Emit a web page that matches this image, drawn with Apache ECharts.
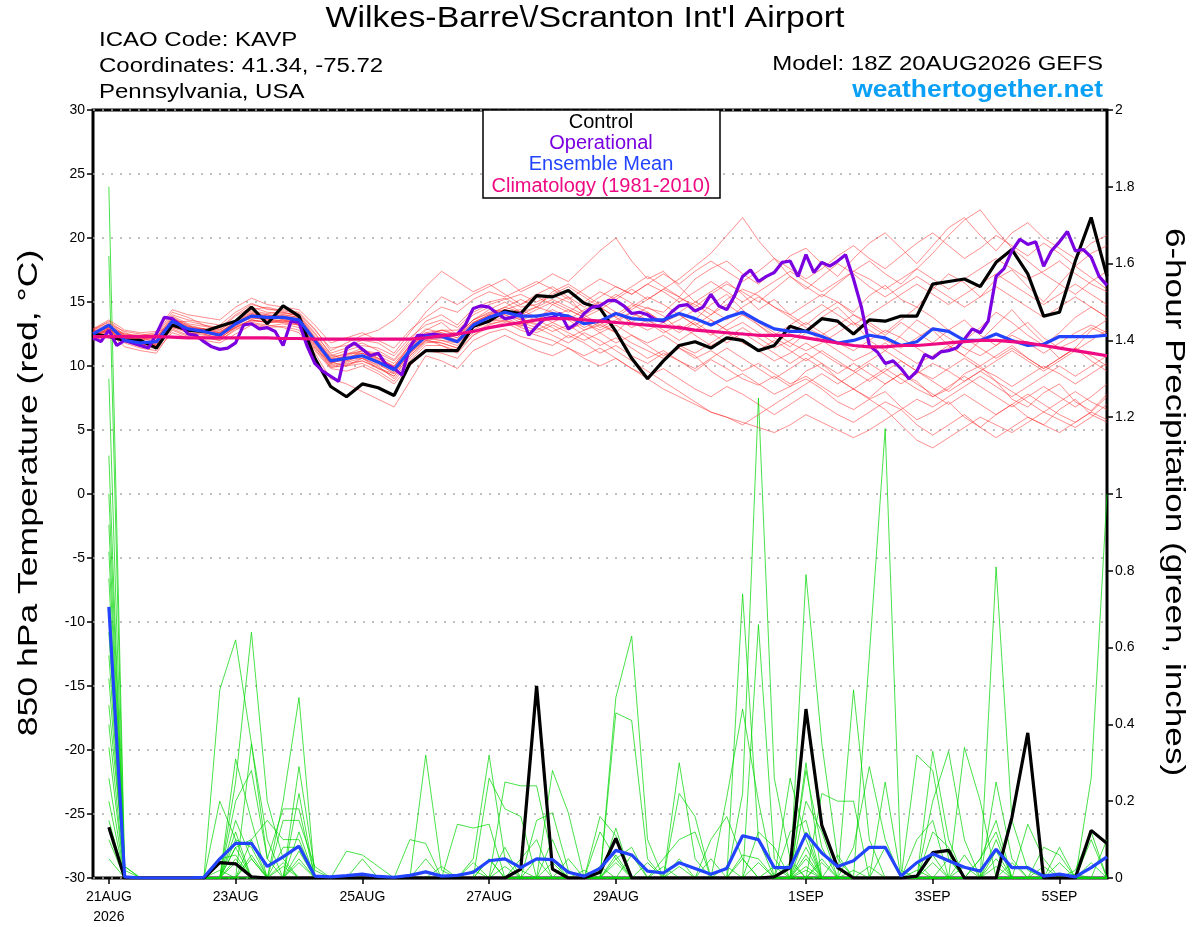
<!DOCTYPE html>
<html><head><meta charset="utf-8">
<script src="https://cdn.jsdelivr.net/npm/echarts@6/dist/echarts.min.js"></script>
<style>html,body{margin:0;padding:0;background:#fff}#c{width:1200px;height:927px}</style>
</head><body><div id="c"></div>
<script>
// ---- time axis (hours after 18Z 20AUG2026), 6-hourly ensemble, 3-hourly operational ----
const STEP_ENS = 6, STEP_OPER = 3;
const tickHours = [6, 54, 102, 150, 198, 270, 318, 366];
const tickLabels = ['21AUG\n2026', '23AUG', '25AUG', '27AUG', '29AUG', '1SEP', '3SEP', '5SEP'];

// ---- 850 hPa temperature (C) ----
const controlTemp = [12.5,12.3,12.0,12.0,11.4, 13.2,12.8,12.7,13.1,13.5, 14.6,13.3,14.7,13.9,10.6, 8.4,7.6,8.6,8.3,7.7, 10.2,11.2,11.2,11.2,13.1, 13.5,14.3,14.1,15.5,15.4, 15.9,14.9,14.5,12.7,10.6, 9.0,10.4,11.6,11.9,11.4, 12.2,12.0,11.2,11.6,13.1, 12.7,13.7,13.5,12.5,13.6, 13.5,13.9,13.9,16.4,16.6, 16.8,16.2,18.1,19.1,17.2, 13.9,14.2,18.2,21.6,17.0];
const meanTemp = [12.5,13.2,12.0,11.8,11.9, 13.5,12.9,12.7,12.4,13.3, 13.9,13.8,13.8,13.6,12.0, 10.4,10.6,10.8,10.3,9.7, 11.2,12.3,12.3,11.9,13.2, 13.8,14.2,13.9,13.9,14.1, 13.9,13.3,13.5,14.1,13.7, 13.6,13.6,14.1,13.7,13.2, 13.8,14.2,13.5,12.9,12.7, 12.7,12.3,11.8,12.0,12.4, 12.2,11.6,11.9,12.9,12.7, 12.0,12.0,12.5,12.0,11.6, 11.7,12.3,12.3,12.3,12.4];
const climoTemp = [12.3,12.3,12.3,12.3,12.3, 12.25,12.2,12.2,12.2,12.2, 12.2,12.2,12.15,12.15,12.1, 12.1,12.1,12.1,12.1,12.1, 12.1,12.2,12.35,12.5,12.7, 13.0,13.2,13.4,13.6,13.7, 13.7,13.6,13.5,13.4,13.3, 13.2,13.1,13.0,12.8,12.7, 12.6,12.5,12.4,12.4,12.4, 12.2,12.0,11.8,11.6,11.5, 11.5,11.6,11.6,11.7,11.8, 11.9,12.0,12.0,11.9,11.8, 11.6,11.4,11.2,11.0,10.8];
const operTemp = [12.2,11.9,12.8,11.6,12.0,11.8,11.6,11.4, 12.5,13.8,13.7,13.2,12.5,12.4,11.9,11.5, 11.3,11.4,11.8,13.2,13.3,12.9,13.0,12.7, 11.6,13.5,13.4,11.6,10.2,9.6,9.2,8.8, 11.4,11.8,11.3,10.8,11.0,10.1,9.8,9.3, 11.5,12.4,12.4,12.5,12.4,12.4,12.5,13.2, 14.5,14.7,14.6,14.1,13.7,13.8,14.1,12.4, 13.1,13.7,13.8,14.1,12.9,13.3,14.1,14.6, 14.7,15.1,15.1,14.7,14.1,14.2,14.0,13.6, 13.5,14.2,14.7,14.8,14.3,14.6,15.6,14.7, 14.4,15.5,17.0,17.5,16.6,17.0,17.3,18.1, 18.2,17.0,18.7,17.3,18.1,17.8,18.2,18.7, 16.8,14.6,11.6,11.1,10.2,10.4,9.8,9.0, 9.6,10.9,10.6,11.1,11.2,11.4,12.1,12.9, 12.6,13.5,17.0,17.6,19.0,19.9,19.5,19.7, 17.8,19.0,19.7,20.5,19.0,19.1,18.5,17.0, 16.3];

const memberT01 = [12.8,13.5,12.6,12.2,12.5,14.2,13.8,13.2,13.0,14.0,14.8,14.5,14.2,13.9,12.5,11.0,11.4,11.8,11.2,10.5,12.0,13.5,14.0,13.2,14.5,15.0,15.3,14.6,14.8,15.5,15.0,14.2,14.8,15.6,14.9,14.5,14.2,15.3,14.8,14.0,15.2,16.0,15.5,14.6,14.0,14.8,15.6,15.0,14.2,15.5,16.3,15.2,14.6,16.0,17.2,16.5,15.4,16.8,17.5,16.2,15.0,16.4,17.8,16.9,16.0];
const memberT02 = [12.2,12.6,11.5,11.2,11.0,12.8,12.3,12.0,11.8,12.5,13.2,13.0,13.1,12.8,11.2,9.8,9.6,10.0,9.4,8.6,10.0,11.2,11.0,10.6,12.0,12.6,12.9,12.3,12.0,11.6,12.4,11.8,11.0,11.6,10.8,10.2,11.0,10.4,9.6,10.5,9.8,9.0,8.5,9.2,8.4,9.6,10.2,9.0,8.2,7.5,8.6,9.4,8.8,7.6,8.2,9.4,10.0,8.8,7.4,6.8,7.9,8.6,7.2,6.5,7.8];
const memberT03 = [12.5,13.1,12.2,12.0,11.6,13.8,13.0,12.9,12.6,13.5,14.2,14.0,13.6,13.2,11.8,10.2,10.9,11.4,10.6,9.9,11.6,12.8,13.4,12.4,13.6,14.4,15.0,14.2,13.5,14.8,15.4,14.0,13.2,12.6,13.8,14.6,13.9,12.8,13.6,14.8,15.6,14.4,13.2,12.2,11.5,12.6,13.8,14.6,13.4,12.0,11.2,12.4,13.6,12.8,11.6,10.8,12.0,13.2,14.4,13.0,11.8,10.6,11.4,12.8,13.6];
const memberT04 = [12.9,13.4,12.4,12.3,12.2,13.9,13.3,13.1,12.9,13.9,14.6,14.2,14.1,14.0,12.6,10.9,10.5,11.2,11.0,10.4,11.8,12.9,12.6,12.2,13.4,14.0,14.6,15.2,14.6,15.8,16.4,15.6,14.8,15.4,16.2,17.0,16.2,15.4,16.8,17.6,18.2,17.2,16.4,17.4,18.6,19.2,18.0,17.0,18.4,19.6,20.4,19.2,18.0,19.4,20.8,21.6,20.2,19.0,20.4,21.2,20.0,19.2,18.4,19.6,20.2];
const memberT05 = [12.4,12.9,12.0,11.6,11.8,13.2,12.6,12.4,12.2,13.0,13.6,13.4,13.5,13.3,11.6,10.0,10.2,10.4,9.8,9.2,10.8,12.0,11.8,11.4,12.8,13.5,13.8,13.2,13.6,13.0,12.2,12.8,13.4,12.6,11.8,11.2,10.6,11.4,10.8,9.6,8.8,9.4,8.6,7.8,8.4,9.0,8.2,7.2,6.6,7.4,8.0,6.8,5.8,6.4,7.2,6.0,5.2,6.2,7.0,6.0,5.4,6.6,7.4,6.2,5.6];
const memberT06 = [12.6,13.2,12.3,11.9,12.0,13.6,13.1,12.8,12.5,13.4,14.0,13.9,14.0,13.8,12.2,10.6,11.0,11.0,10.4,9.6,11.4,12.6,12.4,12.0,13.2,13.8,14.4,14.0,14.6,14.2,13.6,12.8,13.2,14.0,14.8,14.2,13.4,14.2,15.0,14.4,13.6,14.6,15.4,14.6,13.8,13.0,12.4,13.2,14.0,13.4,12.6,13.6,14.6,13.8,12.8,12.0,13.0,14.2,13.4,12.4,11.6,12.6,13.8,14.6,13.8];
const memberT07 = [12.3,12.8,12.1,12.1,12.3,13.4,13.5,13.2,12.8,13.6,14.4,14.6,14.3,14.1,12.8,11.4,11.6,12.0,11.8,11.0,12.6,14.2,15.4,14.8,15.6,16.2,16.8,15.8,16.4,17.2,16.6,17.8,19.0,20.0,18.2,16.8,17.4,16.2,15.0,15.8,16.6,15.6,14.4,15.2,14.0,13.2,14.2,15.0,14.0,13.2,12.4,13.4,12.6,11.8,12.8,13.6,12.4,11.6,12.6,13.4,12.2,11.4,12.0,13.0,12.4];
const memberT08 = [12.0,12.4,11.8,11.4,11.2,12.6,12.2,12.3,12.0,12.8,13.4,13.2,13.0,12.6,11.0,9.0,8.6,8.0,7.4,6.8,8.8,10.8,10.4,9.8,11.2,11.8,12.4,11.8,11.2,10.8,11.4,10.6,10.0,10.6,9.8,9.2,9.8,9.0,8.2,7.6,8.4,7.8,7.0,6.2,7.0,7.8,7.0,6.2,5.6,6.4,7.2,6.6,5.4,4.6,5.4,6.2,5.2,4.4,5.2,6.0,5.4,4.8,5.6,6.4,7.6];
const memberT09 = [12.7,13.0,12.5,12.4,12.6,13.3,12.8,12.6,12.3,13.2,13.8,13.6,13.8,13.4,12.0,10.5,10.8,11.2,10.8,10.2,11.6,12.4,12.8,12.8,14.0,14.6,14.0,13.6,13.2,13.8,14.4,13.8,13.0,13.6,14.2,13.4,12.6,13.2,12.4,11.6,12.2,13.0,12.2,11.4,12.0,12.8,12.0,11.2,10.4,11.0,11.8,11.0,10.2,10.8,11.6,10.8,10.0,10.8,11.6,10.6,9.8,10.6,11.4,10.4,9.6];
const memberT10 = [12.5,13.0,12.2,11.7,11.6,13.0,12.9,12.9,12.7,13.3,13.8,13.6,13.4,13.2,11.4,10.2,10.6,10.8,10.2,9.4,11.0,12.2,12.8,12.4,13.6,14.2,14.4,14.8,15.4,14.8,14.2,15.0,15.8,15.2,14.4,15.2,16.0,15.4,14.6,15.6,16.4,15.8,15.0,16.0,17.0,16.2,15.4,16.4,17.4,18.2,17.2,16.4,17.6,18.8,20.2,21.4,22.2,20.6,19.2,18.2,17.2,16.4,15.6,16.6,17.4];
const memberT11 = [12.4,12.7,12.0,11.8,11.9,13.7,13.2,12.5,12.1,13.1,13.9,14.0,13.9,13.7,12.1,10.3,10.0,10.6,10.0,9.0,10.6,11.8,12.0,11.6,13.0,13.6,14.0,13.4,13.0,12.4,11.8,12.6,12.0,11.2,10.4,9.6,8.8,8.0,7.2,6.4,6.0,5.4,6.2,7.0,7.8,8.6,9.4,8.6,9.4,10.2,9.4,8.6,9.4,10.2,9.6,8.8,9.6,10.4,11.2,10.4,9.6,10.4,11.2,12.0,12.8];
const memberT12 = [12.6,13.1,12.4,12.1,12.0,13.5,12.9,12.7,12.4,13.3,14.1,13.8,13.7,13.6,12.0,10.4,10.4,10.8,10.4,9.8,11.2,12.3,12.2,11.8,13.0,13.6,14.2,13.6,14.0,13.4,12.8,13.4,12.6,11.8,12.4,11.6,10.8,11.4,10.6,11.2,10.4,9.6,10.2,9.4,8.6,9.2,8.4,7.6,8.2,7.4,6.6,5.4,4.2,3.6,4.4,5.2,6.0,5.4,4.8,5.6,6.4,5.8,5.2,6.0,7.0];
const memberT13 = [12.8,13.3,12.7,12.5,12.4,14.0,13.6,13.4,13.2,14.2,14.9,14.4,14.4,14.2,12.9,11.2,11.8,12.4,12.8,13.6,14.8,16.2,17.4,16.6,15.8,16.4,15.6,14.8,15.6,16.2,15.4,14.6,15.4,16.2,15.6,16.4,17.2,16.4,17.4,18.2,17.4,16.6,17.4,18.4,17.6,16.8,17.6,18.6,19.4,18.4,17.6,18.6,19.6,20.4,19.4,18.4,19.2,20.2,19.4,18.6,19.6,18.8,17.8,18.8,19.4];
const memberT14 = [12.3,12.9,12.2,11.9,11.7,13.1,12.7,12.6,12.4,13.0,13.5,13.5,13.6,13.5,11.8,10.2,10.6,10.6,9.8,9.4,11.0,12.0,12.2,12.4,13.4,13.9,14.2,14.4,13.8,14.4,13.8,13.0,13.6,14.2,13.4,12.8,13.4,14.0,13.2,12.4,13.2,14.0,13.4,12.6,11.8,11.2,11.8,12.6,13.4,12.8,12.0,11.4,12.2,13.0,12.2,11.4,10.8,11.6,12.4,11.8,11.0,11.8,12.6,13.2,12.6];
const memberT15 = [12.5,12.8,11.9,11.6,11.7,13.3,12.7,12.6,12.5,13.4,13.7,13.7,13.5,13.4,11.7,10.1,10.3,10.6,10.1,9.5,11.0,12.1,11.6,11.2,12.4,13.0,13.4,12.8,12.4,12.0,11.4,10.8,11.4,10.6,9.8,9.0,8.2,7.6,7.0,6.4,6.0,5.6,5.2,4.8,5.4,6.2,5.6,5.0,4.4,5.0,5.8,6.6,7.4,6.8,7.6,8.4,9.2,8.4,7.6,8.4,9.2,10.0,9.2,10.0,10.8];
const memberT16 = [12.7,13.2,12.5,12.2,12.1,13.8,13.2,12.9,12.8,13.6,14.3,14.1,14.2,13.9,12.3,10.8,11.2,11.6,11.4,10.8,12.2,13.2,13.6,13.0,14.2,14.8,15.2,15.6,15.0,15.6,16.2,15.4,14.6,13.8,14.6,15.4,14.8,14.0,13.2,14.0,14.8,14.0,13.2,12.4,13.2,14.0,14.8,14.0,13.2,14.0,14.8,15.6,16.4,15.6,14.8,15.6,16.4,17.2,16.4,15.6,14.8,15.6,16.4,15.6,14.8];
const memberT17 = [12.2,12.7,11.9,11.5,11.4,12.9,12.4,12.2,12.0,12.9,13.3,13.1,13.3,13.0,11.3,9.9,10.0,10.2,9.6,8.8,10.4,11.6,11.6,11.0,12.4,13.2,13.6,13.0,12.6,13.2,12.6,12.0,12.6,13.2,12.4,11.8,12.4,11.6,11.0,11.8,12.6,11.8,11.2,10.4,11.0,11.8,11.0,10.2,9.6,10.4,11.2,10.4,9.6,9.0,9.8,10.6,9.8,9.2,8.4,9.2,10.0,9.4,8.6,9.4,10.2];
const memberT18 = [12.9,13.6,12.8,12.6,12.7,14.4,14.0,13.8,13.6,14.6,15.3,14.8,14.6,14.4,13.2,11.8,12.2,12.6,12.0,11.4,12.8,13.8,14.6,14.2,15.2,15.8,15.4,16.0,16.6,16.0,15.2,16.0,16.8,16.2,15.6,16.4,15.8,15.0,15.8,16.6,15.8,15.0,15.8,16.6,17.4,16.6,15.8,16.6,17.4,16.8,16.0,16.8,17.6,16.8,16.0,16.8,17.6,18.4,17.6,16.8,17.4,18.2,17.2,16.4,15.8];
const memberT19 = [12.4,12.9,12.1,11.8,11.9,13.4,12.9,12.8,12.3,13.1,13.6,13.4,13.6,13.4,11.9,10.4,10.4,10.8,10.4,9.6,11.2,12.2,12.0,11.8,13.0,13.5,13.6,13.2,12.8,13.4,14.0,13.4,12.8,13.4,14.2,13.6,13.0,13.6,14.4,13.6,12.8,13.4,12.6,11.8,12.6,13.4,12.6,11.8,11.2,12.0,12.8,12.2,11.4,10.6,11.4,12.2,11.4,10.6,11.4,10.6,9.8,10.6,11.4,10.8,10.0];
const memberT20 = [12.6,13.0,12.3,12.0,12.2,13.5,13.0,12.7,12.6,13.5,14.1,13.9,14.0,13.8,12.2,10.7,10.9,11.2,10.6,10.0,11.4,12.4,12.6,12.2,13.4,14.0,14.4,13.8,14.4,15.0,14.4,13.8,14.4,15.2,16.0,15.2,16.0,16.8,17.8,18.8,20.2,21.6,19.8,18.4,17.0,16.0,17.0,18.0,17.2,16.2,15.4,16.2,17.0,16.2,15.4,14.6,15.4,16.2,15.4,14.6,13.8,14.6,15.4,14.6,13.8];
const memberT21 = [12.5,13.0,12.1,11.9,11.8,13.4,12.8,12.6,12.4,13.2,13.9,13.7,13.7,13.5,11.9,10.4,10.7,11.0,10.5,9.8,11.3,12.4,12.5,12.0,13.3,13.9,14.3,13.7,13.3,12.7,13.2,12.4,11.6,12.2,11.4,10.6,11.2,10.4,9.8,10.6,11.4,10.6,9.8,9.0,9.8,10.6,9.8,9.0,8.2,9.0,9.8,9.0,8.2,7.6,8.4,9.2,8.4,7.6,6.8,7.6,8.4,7.6,6.8,7.6,8.6];
const memberT22 = [12.7,13.1,12.3,12.1,12.3,13.6,13.1,12.9,12.6,13.4,14.0,13.8,13.9,13.6,12.1,10.6,10.6,11.0,10.6,10.0,11.6,12.6,12.8,12.5,13.6,14.1,14.6,14.2,14.6,15.2,14.6,14.0,14.6,13.8,13.0,13.6,12.8,12.0,12.8,13.6,12.8,12.0,11.2,12.0,11.2,10.4,11.2,10.4,9.6,8.8,9.6,10.4,9.6,8.8,8.0,8.8,9.6,8.8,8.0,7.2,6.4,7.2,8.0,7.2,6.6];
const memberT23 = [12.3,12.8,12.0,11.7,11.6,13.0,12.6,12.5,12.2,13.0,13.6,13.4,13.4,13.2,11.5,9.9,10.1,10.4,9.9,9.2,10.8,11.9,11.8,11.4,12.6,13.3,13.5,13.1,13.6,14.2,13.6,14.4,15.0,14.2,13.4,14.2,13.4,12.6,13.4,12.6,11.8,12.6,11.8,11.0,10.2,11.0,10.2,9.4,10.2,9.4,8.6,9.4,8.6,7.8,7.0,7.8,7.0,6.2,7.0,7.8,7.0,6.2,5.6,6.4,5.8];

// ---- 6-hour precipitation (inches) ----
const controlPrecip = [null,0.132,0,0,0, 0,0,0,0.04,0.037, 0.003,0,0,0,0, 0,0,0,0,0, 0,0,0,0,0, 0,0,0.023,0.50,0.023, 0,0,0.015,0.103,0, 0,0,0,0,0, 0,0,0,0.003,0.027, 0.44,0.137,0.027,0,0, 0,0,0.005,0.066,0.072, 0,0,0,0.158,0.378, 0,0,0,0.124,0.09];
const meanPrecip = [null,0.706,0.003,0,0, 0,0,0.002,0.05,0.09, 0.09,0.03,0.055,0.083,0.005, 0.003,0.006,0.01,0.004,0.002, 0.007,0.016,0.005,0.007,0.015, 0.045,0.05,0.027,0.05,0.048, 0.015,0.005,0.025,0.072,0.06, 0.018,0.013,0.04,0.025,0.01, 0.025,0.11,0.10,0.027,0.027, 0.115,0.065,0.03,0.045,0.08, 0.08,0.005,0.04,0.063,0.045, 0.028,0.018,0.075,0.027,0.027, 0.005,0.01,0.003,0.027,0.055];

const memberP01 = [null,1.80,0.03,0,0, 0,0,0,0,0.10, 0.08,0,0,0,0, 0,0,0,0,0, 0,0,0,0,0, 0.05,0,0,0,0, 0,0,0,0.13,0, 0,0,0,0,0, 0,0.22,1.25,0.26,0.05, 0,0,0,0,0, 0,0,0,0,0, 0,0,0.07,0,0, 0,0,0,0.26,1.0];
const memberP02 = [null,1.62,0,0,0, 0,0,0,0.49,0.62, 0.35,0.10,0,0,0, 0,0,0,0,0, 0,0.32,0.02,0,0, 0,0,0,0,0, 0,0,0,0,0, 0,0,0.30,0.05,0, 0,0,0,0,0, 0.30,0,0,0,0, 0.25,0,0,0.33,0.10, 0,0,0,0,0, 0,0,0,0,0];
const memberP03 = [null,1.30,0,0,0, 0,0,0,0,0.25, 0.64,0.20,0.05,0,0, 0,0,0,0,0, 0,0,0,0,0, 0,0.25,0.24,0.24,0.05, 0,0,0,0,0, 0,0,0,0,0, 0,0.74,0.10,0,0, 0,0,0,0.49,0.10, 0,0,0,0,0, 0,0,0.25,0.05,0, 0,0,0,0,0];
const memberP04 = [null,1.10,0,0,0, 0,0,0,0,0, 0,0,0.20,0.47,0, 0,0,0,0,0, 0,0,0,0,0.05, 0.32,0.05,0,0,0, 0,0,0,0.47,0.63, 0.10,0,0,0,0, 0,0,0,0,0, 0.79,0.35,0.05,0,0, 0,0,0,0,0, 0,0,0,0,0, 0,0.08,0,0,0];
const memberP05 = [null,1.00,0.02,0,0, 0,0,0,0,0.31, 0.15,0,0,0.29,0.02, 0,0,0,0,0, 0,0,0,0,0, 0,0,0,0,0.28, 0.17,0,0,0,0, 0,0,0,0,0, 0,0,0.66,0.05,0, 0,0,0,0,0.58, 1.17,0.02,0,0,0, 0,0.05,0.15,0,0, 0,0,0,0,0];
const memberP06 = [null,0.92,0,0,0, 0,0,0,0,0, 0.35,0.05,0,0.22,0, 0,0.07,0.06,0.03,0, 0,0,0,0,0, 0,0,0,0,0, 0,0,0,0.43,0.41, 0.05,0,0,0,0, 0,0,0,0,0.26, 0.10,0,0,0,0, 0,0,0.32,0.28,0.05, 0,0,0,0,0, 0,0,0,0.10,0];
const memberP07 = [null,0.85,0,0,0, 0,0,0,0,0.20, 0.28,0.05,0.18,0.18,0, 0,0,0,0,0, 0,0,0,0.14,0.13, 0.14,0,0,0,0, 0,0,0,0,0, 0,0,0.22,0.16,0, 0,0,0,0,0, 0,0.22,0.20,0.20,0, 0,0,0,0,0, 0.34,0.20,0,0,0, 0.08,0.06,0,0,0];
const memberP08 = [null,0.78,0,0,0, 0,0,0,0,0.15, 0.05,0,0.15,0.15,0.03, 0,0,0,0,0, 0.10,0.09,0,0,0, 0,0,0,0.15,0.17, 0.02,0,0,0,0, 0,0,0,0,0, 0.21,0.44,0.20,0,0, 0,0,0,0,0, 0,0,0,0,0, 0,0,0.81,0.15,0.02, 0,0,0,0,0];
const memberP09 = [null,0.70,0,0,0, 0,0,0,0.20,0.10, 0,0,0,0.12,0, 0,0,0,0,0, 0,0,0,0,0, 0.26,0.18,0.16,0,0, 0,0,0.16,0.11,0, 0,0,0,0,0, 0,0,0,0,0, 0.28,0.08,0,0,0, 0,0,0,0.20,0.33, 0.10,0,0,0,0.14, 0.05,0,0,0,0];
const memberP10 = [null,0.64,0,0,0, 0,0,0,0,0.08, 0.10,0.15,0.10,0.10,0, 0,0,0.05,0,0, 0,0,0,0,0, 0,0,0,0,0, 0,0,0.12,0.05,0, 0,0,0,0,0.10, 0.16,0.05,0,0,0, 0.20,0.12,0,0,0, 0,0,0.10,0.15,0, 0,0,0,0,0, 0,0,0.02,0.12,0];
const memberP11 = [null,0.58,0,0,0, 0,0,0,0,0, 0,0,0.08,0.08,0, 0,0,0,0,0, 0,0.05,0,0,0, 0,0,0.05,0.10,0, 0,0,0,0,0, 0,0.05,0.10,0.12,0, 0,0,0,0,0.12, 0.15,0,0,0.08,0.29, 0.10,0,0,0,0, 0,0.05,0.12,0,0, 0,0,0,0,0];
const memberP12 = [null,0.52,0,0,0, 0,0,0,0,0.12, 0,0,0,0,0, 0,0,0,0,0, 0,0,0,0,0.04, 0,0,0,0,0.10, 0,0,0,0.05,0.08, 0,0,0,0,0, 0,0,0.12,0.08,0, 0.12,0,0,0,0, 0.08,0,0,0.12,0.08, 0,0,0.10,0,0, 0,0,0,0,0.10];
const memberP13 = [null,0.45,0.03,0,0, 0,0,0,0,0, 0.10,0,0,0.05,0, 0,0,0,0,0, 0,0,0,0,0, 0,0,0,0,0, 0.05,0,0,0,0, 0.04,0,0,0,0, 0,0.06,0.05,0,0, 0.08,0,0.06,0,0, 0,0,0,0,0, 0.06,0,0,0,0, 0,0.04,0,0,0];
const memberP14 = [null,0.40,0,0,0, 0,0,0,0.05,0.06, 0,0,0,0,0, 0,0,0,0,0, 0,0,0.03,0,0, 0,0.08,0,0,0, 0,0,0,0.06,0, 0,0,0,0,0.05, 0,0,0,0,0.04, 0,0.05,0,0,0, 0,0,0,0.06,0, 0,0,0,0.04,0, 0,0,0,0,0];
const memberP15 = [null,0.34,0,0,0, 0,0,0,0,0.08, 0,0,0.04,0,0, 0,0,0,0,0, 0,0,0,0,0, 0.05,0,0,0,0, 0,0.02,0,0,0, 0,0,0.05,0,0, 0,0,0,0,0, 0.06,0,0,0,0.03, 0,0,0.04,0,0, 0,0,0.05,0,0, 0,0,0,0,0];
const memberP16 = [null,0.26,0,0,0, 0,0,0,0,0, 0.05,0,0,0.07,0, 0,0,0,0,0, 0,0,0,0,0, 0,0,0,0.05,0, 0,0,0,0,0.06, 0,0,0,0,0, 0,0,0.04,0,0, 0,0.04,0,0,0, 0,0,0,0,0.05, 0,0,0,0,0, 0.03,0,0,0,0];
const memberP17 = [null,0.20,0,0,0, 0,0,0,0,0.05, 0,0,0.03,0,0, 0,0,0,0,0, 0,0,0,0,0, 0,0,0,0,0.04, 0,0,0,0.04,0, 0,0,0,0,0, 0,0.05,0,0,0, 0.05,0,0,0,0, 0,0,0,0.04,0, 0,0,0,0,0, 0,0,0,0.04,0];
const memberP18 = [null,0.15,0,0,0, 0,0,0,0,0, 0.06,0,0,0,0, 0,0,0,0,0, 0,0,0,0,0, 0,0.03,0,0,0, 0,0,0,0,0, 0,0.03,0,0,0, 0,0,0,0.03,0, 0,0,0,0.02,0, 0,0,0,0,0, 0.03,0,0,0,0, 0,0,0,0,0];
const memberP19 = [null,0.10,0,0,0, 0,0,0,0,0.04, 0,0,0,0.04,0, 0,0,0,0,0, 0,0,0,0,0, 0,0,0.02,0,0, 0,0,0.03,0,0, 0,0,0,0,0, 0.03,0,0,0,0, 0.03,0,0,0,0, 0,0,0,0,0, 0,0,0.03,0,0, 0,0,0,0,0];
const memberP20 = [null,0.05,0,0,0, 0,0,0,0.02,0, 0,0,0,0,0, 0,0,0,0,0, 0,0,0,0,0.02, 0,0,0,0,0, 0,0,0,0,0, 0,0,0.03,0,0, 0,0,0,0,0, 0.02,0,0,0,0, 0,0,0.02,0,0, 0,0,0,0,0, 0,0,0.01,0,0];

const tempMembers = [memberT01,memberT02,memberT03,memberT04,memberT05,memberT06,memberT07,memberT08,memberT09,memberT10,memberT11,memberT12,memberT13,memberT14,memberT15,memberT16,memberT17,memberT18,memberT19,memberT20,memberT21,memberT22,memberT23];
const precipMembers = [memberP01,memberP02,memberP03,memberP04,memberP05,memberP06,memberP07,memberP08,memberP09,memberP10,memberP11,memberP12,memberP13,memberP14,memberP15,memberP16,memberP17,memberP18,memberP19,memberP20];

const FONT = '"Liberation Sans", Arial, Helvetica, sans-serif';
const pairs = (arr, step) => arr.map((v, i) => [i * step, v]);

const series = [];
precipMembers.forEach(m => series.push({type:'line', yAxisIndex:1, data:pairs(m, STEP_ENS), symbol:'none', silent:true,
  lineStyle:{color:'rgba(0,215,0,0.8)', width:0.9}}));
tempMembers.forEach(m => series.push({type:'line', yAxisIndex:0, data:pairs(m, STEP_ENS), symbol:'none', silent:true,
  lineStyle:{color:'rgba(255,45,45,0.6)', width:0.9}}));
series.push({type:'line', yAxisIndex:1, data:pairs(controlPrecip, STEP_ENS), symbol:'none', lineStyle:{color:'#000', width:3.2}});
series.push({type:'line', yAxisIndex:1, data:pairs(meanPrecip, STEP_ENS), symbol:'none', lineStyle:{color:'#2244ff', width:3.2}});
series.push({type:'line', yAxisIndex:0, data:pairs(controlTemp, STEP_ENS), symbol:'none', lineStyle:{color:'#000', width:3.2}});
series.push({type:'line', yAxisIndex:0, data:pairs(operTemp, STEP_OPER), symbol:'none', lineStyle:{color:'#7a00e0', width:3.2}});
series.push({type:'line', yAxisIndex:0, data:pairs(meanTemp, STEP_ENS), symbol:'none', lineStyle:{color:'#2244ff', width:3.2}});
series.push({type:'line', yAxisIndex:0, data:pairs(climoTemp, STEP_ENS), symbol:'none', lineStyle:{color:'#ee0a82', width:3.2}});

const labelMap = {};
tickHours.forEach((h, i) => labelMap[h] = tickLabels[i]);

const chart = echarts.init(document.getElementById('c'), null, {renderer:'canvas'});
chart.setOption({
  animation:false,
  backgroundColor:'#fff',
  grid:{left:93, right:93, top:110, bottom:44, show:true, borderColor:'#000', borderWidth:3, backgroundColor:'transparent'},
  xAxis:{type:'value', min:0, max:384,
    axisLine:{show:false, onZero:false}, splitLine:{show:false},
    axisTick:{show:true, customValues:tickHours, length:6, lineStyle:{color:'#000', width:1.5}},
    axisLabel:{customValues:tickHours, formatter:v => labelMap[v] || '', color:'#000', fontFamily:FONT, fontSize:14, margin:9, lineHeight:20}},
  yAxis:[
    {type:'value', min:-30, max:30, interval:5, position:'left',
     axisLine:{show:false, onZero:false},
     axisTick:{show:true, length:6, lineStyle:{color:'#000', width:1.5}},
     axisLabel:{color:'#000', fontFamily:FONT, fontSize:14, margin:8},
     splitLine:{show:true, lineStyle:{color:'#aaa', width:1.5, type:[2,7]}}},
    {type:'value', min:0, max:2, interval:0.2, position:'right',
     axisLine:{show:false, onZero:false},
     axisTick:{show:true, length:6, lineStyle:{color:'#000', width:1.5}},
     axisLabel:{color:'#000', fontFamily:FONT, fontSize:14, margin:8, formatter:v => String(parseFloat(v.toFixed(1)))},
     splitLine:{show:false}}
  ],
  graphic:[
    {type:'text', x:585, y:19, scaleX:1.13, style:{text:"Wilkes-Barre\\/Scranton Int'l Airport", font:'30px '+FONT, fill:'#000', textAlign:'center', textVerticalAlign:'middle'}},
    {type:'text', x:99, y:40, scaleX:1.2, style:{text:'ICAO Code: KAVP', font:'20px '+FONT, fill:'#000', textAlign:'left', textVerticalAlign:'middle'}},
    {type:'text', x:99, y:66, scaleX:1.2, style:{text:'Coordinates: 41.34, -75.72', font:'20px '+FONT, fill:'#000', textAlign:'left', textVerticalAlign:'middle'}},
    {type:'text', x:99, y:92, scaleX:1.2, style:{text:'Pennsylvania, USA', font:'20px '+FONT, fill:'#000', textAlign:'left', textVerticalAlign:'middle'}},
    {type:'text', x:1103, y:64, scaleX:1.2, style:{text:'Model: 18Z 20AUG2026 GEFS', font:'20px '+FONT, fill:'#000', textAlign:'right', textVerticalAlign:'middle'}},
    {type:'text', x:1103, y:90, scaleX:1.1, style:{text:'weathertogether.net', font:'bold 24px '+FONT, fill:'#0aa0f5', textAlign:'right', textVerticalAlign:'middle'}},
    {type:'rect', shape:{x:483, y:110, width:237, height:88}, style:{fill:'#fff', stroke:'#000', lineWidth:1.5}, z:50},
    {type:'text', x:601, y:122, z:51, style:{text:'Control', font:'20px '+FONT, fill:'#000', textAlign:'center', textVerticalAlign:'middle'}},
    {type:'text', x:601, y:143, z:51, style:{text:'Operational', font:'20px '+FONT, fill:'#7a00e0', textAlign:'center', textVerticalAlign:'middle'}},
    {type:'text', x:601, y:164, z:51, style:{text:'Ensemble Mean', font:'20px '+FONT, fill:'#2244ff', textAlign:'center', textVerticalAlign:'middle'}},
    {type:'text', x:601, y:186, z:51, style:{text:'Climatology (1981-2010)', font:'20px '+FONT, fill:'#ee0a82', textAlign:'center', textVerticalAlign:'middle'}},
    {type:'text', x:29, y:493, rotation:Math.PI/2, scaleX:1.27, style:{text:'850 hPa Temperature (red, °C)', font:'28px '+FONT, fill:'#000', textAlign:'center', textVerticalAlign:'middle'}},
    {type:'text', x:1173, y:502, rotation:-Math.PI/2, scaleX:1.3, style:{text:'6-hour Precipitation (green, inches)', font:'27px '+FONT, fill:'#000', textAlign:'center', textVerticalAlign:'middle'}}
  ],
  series:series
});
</script></body></html>
